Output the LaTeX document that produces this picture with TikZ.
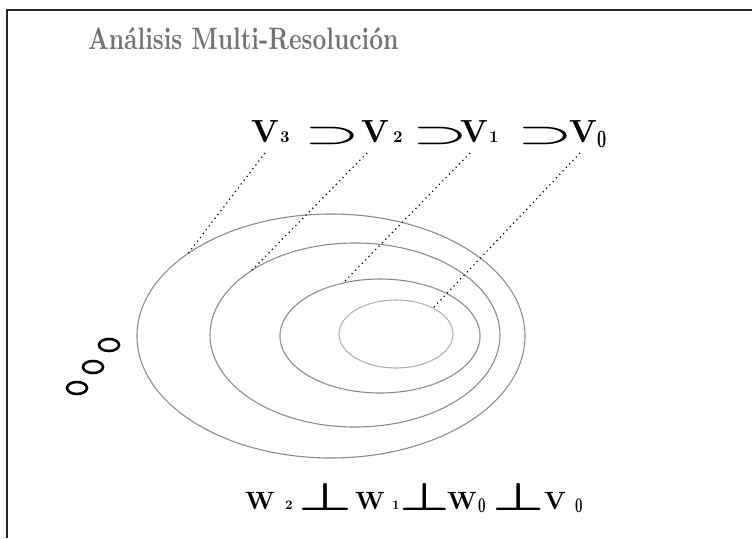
\documentclass[tikz,border=0pt]{standalone}
\usepackage{fontspec}
\usepackage{amsmath,amsbsy}
\usepackage{graphicx}
\DeclareFontFamily{OMS}{cmsy}{\skewchar\font48 }
\DeclareFontShape{OMS}{cmsy}{m}{n}{<->cmsy10}{}
\DeclareFontShape{OMS}{cmsy}{b}{n}{<->cmbsy10}{}
\newcommand{\sbx}[3]{\scalebox{#1}[#2]{\fontsize{10}{12}\selectfont\bfseries #3}}
\usetikzlibrary{shapes.geometric}
\begin{document}
\begin{tikzpicture}[x=1pt,y=-1pt,
  lbl/.style={anchor=base west,inner sep=0pt,outer sep=0pt},
  rel/.style={lbl,font=\fontsize{26}{26}\selectfont},
  perpsym/.style={lbl,font=\fontsize{39}{39}\selectfont},
  ring/.style={draw=black!45,line width=1.1pt,ellipse,inner sep=0pt,outer sep=0pt},
  guide/.style={line width=1.2pt,dash pattern=on 1.2pt off 3.6pt},
  oval/.style={draw,line width=2.6pt,ellipse,minimum width=20pt,minimum height=12pt,inner sep=0pt},
  frameline/.style={line width=1.4pt,black!85}
]
\useasboundingbox (0,0) rectangle (752,538);
% frame
\coordinate (fbl) at (7,538);
\coordinate (ftl) at (7,10);
\coordinate (ftr) at (752,10);
\draw[frameline] (fbl) -- (ftl) -- (ftr);
% title
\node[lbl,text=black!55] (title) at (88,49) {\sbx{2.4}{3.1}{Análisis Multi-Resolución}};
% top row
\node[lbl] (V3) at (251,142) {\sbx{3.2}{3.2}{V}};
\node[lbl] (n3) at (280,142) {\sbx{1.65}{1.65}{3}};
\node[rel] (sup1) at (304,142) {\scalebox{2.4}[1]{$\boldsymbol{\supset}$}};
\node[lbl] (V2) at (361,142) {\sbx{3.2}{3.2}{V}};
\node[lbl] (n2) at (393,142) {\sbx{1.65}{1.65}{2}};
\node[rel] (sup2) at (412,142) {\scalebox{2.4}[1]{$\boldsymbol{\supset}$}};
\node[lbl] (V1) at (460,142) {\sbx{3.2}{3.2}{V}};
\node[lbl] (n1) at (489,142) {\sbx{1.65}{1.65}{1}};
\node[rel] (sup3) at (517,142) {\scalebox{2.4}[1]{$\boldsymbol{\supset}$}};
\node[lbl] (V0) at (569,142) {\sbx{3.2}{3.2}{V}};
\node[lbl] (n0) at (597,147) {\sbx{1.6}{2.5}{0}};
% ellipses
\node[ring,minimum width=388pt,minimum height=244pt] (e1) at (331,336) {};
\node[ring,minimum width=290pt,minimum height=184pt] (e2) at (355,335) {};
\node[ring,minimum width=200pt,minimum height=114pt] (e3) at (380,336) {};
\node[ring,draw=black!30,minimum width=114pt,minimum height=68pt] (e4) at (396,334) {};
% dotted guides
\coordinate (g3) at (265,153);
\coordinate (g2) at (367,153);
\coordinate (g1) at (470,153);
\coordinate (g0) at (580,153);
\draw[guide] (g3) -- (e1.150);
\draw[guide] (g2) -- (e2.148.6);
\draw[guide] (g1) -- (e3.125.6);
\draw[guide] (g0) -- (e4.35);
% small ovals
\node[oval] (o1) at (77,388) {};
\node[oval] (o2) at (93,367) {};
\node[oval] (o3) at (109,345) {};
% bottom row
\node[lbl] (W2) at (245,509) {\sbx{2.5}{2.5}{W}};
\node[lbl] (m2) at (285,509) {\sbx{1.3}{1.3}{2}};
\node[perpsym] (p1) at (298,510) {\scalebox{1.55}[1]{$\boldsymbol{\perp}$}};
\node[lbl] (W1) at (355,509) {\sbx{2.5}{2.5}{W}};
\node[lbl] (m1) at (392,509) {\sbx{1.3}{1.3}{1}};
\node[perpsym] (p2) at (399,510) {\scalebox{1.45}[1]{$\boldsymbol{\perp}$}};
\node[lbl] (W0) at (447,509) {\sbx{2.5}{2.5}{W}};
\node[lbl] (m0) at (478,512) {\sbx{1.3}{2.1}{0}};
\node[perpsym] (p3) at (492,510) {\scalebox{1.5}[1]{$\boldsymbol{\perp}$}};
\node[lbl] (VB) at (544,509) {\sbx{2.5}{2.5}{V}};
\node[lbl] (mv0) at (575,512) {\sbx{1.3}{2.1}{0}};
\end{tikzpicture}
\end{document}
